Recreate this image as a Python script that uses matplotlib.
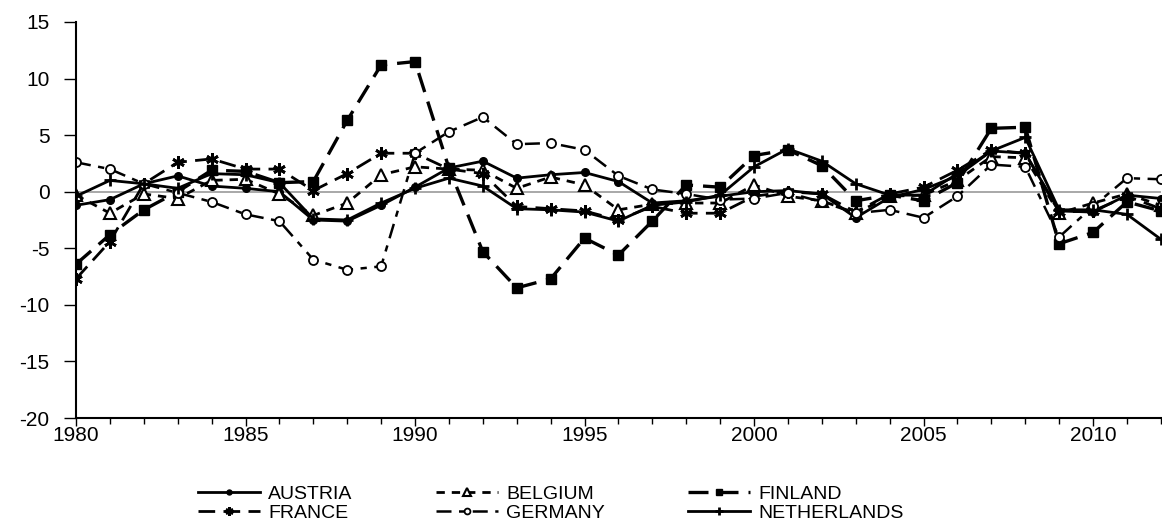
import matplotlib.pyplot as plt
from matplotlib.ticker import MultipleLocator
import numpy as np

plt.rcParams['font.family'] = ['Liberation Sans', 'DejaVu Sans']
plt.rcParams['axes.unicode_minus'] = False

# anos y series
years = np.arange(1980, 2013)

austria = [-1.2, -0.7, 0.7, 1.4, 0.5, 0.3, 0.0, -2.5, -2.6, -1.2,
           0.4, 2.1, 2.7, 1.2, 1.5, 1.7, 0.9, -1.0, -0.8, -0.4,
           0.0, 0.1, -0.2, -2.3, -0.5, 0.2, 1.4, 3.6, 3.4, -1.7,
           -1.8, -0.3, -0.6]
belgium = [-0.3, -1.9, -0.2, -0.6, 1.0, 1.1, -0.2, -2.1, -1.0, 1.5,
           2.2, 2.0, 1.9, 0.3, 1.3, 0.6, -1.6, -1.1, -1.0, -1.0,
           0.6, -0.4, -0.8, -1.9, -0.4, -0.3, 1.0, 3.1, 3.0, -1.9,
           -1.0, -0.2, -1.2]
finland = [-6.4, -3.8, -1.6, 0.0, 1.9, 1.8, 0.8, 0.9, 6.3, 11.2,
           11.5, 2.1, -5.3, -8.5, -7.7, -4.1, -5.6, -2.6, 0.6, 0.4,
           3.2, 3.7, 2.3, -0.8, -0.3, -0.8, 0.8, 5.6, 5.7, -4.6,
           -3.6, -0.9, -1.7]
france = [-7.7, -4.4, 0.7, 2.6, 2.9, 2.0, 2.0, 0.1, 1.6, 3.4,
          3.4, 2.0, 1.6, -1.3, -1.5, -1.7, -2.5, -1.3, -1.9, -1.9,
          -0.4, 0.0, -0.2, -1.8, -0.2, 0.4, 1.9, 3.7, 3.4, -1.8,
          -1.7, -0.4, -1.5]
germany = [2.6, 2.0, 0.7, -0.1, -0.9, -2.0, -2.6, -6.0, -6.9, -6.6,
           3.4, 5.3, 6.6, 4.2, 4.3, 3.7, 1.4, 0.2, -0.2, -0.7,
           -0.6, -0.1, -0.9, -1.9, -1.6, -2.3, -0.4, 2.4, 2.2, -4.0,
           -1.3, 1.2, 1.1]
netherlands = [-0.4, 1.0, 0.7, 0.3, 1.6, 1.5, 0.8, -2.4, -2.5, -1.0,
               0.3, 1.2, 0.5, -1.5, -1.6, -1.8, -2.6, -1.2, -0.9, -0.3,
               2.2, 3.8, 2.7, 0.7, -0.3, -0.3, 1.6, 3.6, 4.8, -1.6,
               -1.6, -2.0, -4.2]

fig = plt.figure(figsize=(11.62, 5.30), dpi=100)
ax = fig.add_axes([0.0654, 0.2113, 0.9336, 0.7472])

ax.axhline(0, color='#999999', lw=1.2, zorder=1)

lw = 2.0
l_aus, = ax.plot(years, austria, color='k', lw=lw, ls='-', marker='o', ms=5.5,
                 mfc='k', label='AUSTRIA')
l_bel, = ax.plot(years, belgium, color='k', lw=lw, ls=(0, (3, 2.5)), marker='^',
                 ms=8, mfc='white', mew=1.5, label='BELGIUM')
l_fin, = ax.plot(years, finland, color='k', lw=lw + 0.4, ls=(0, (6, 3)), marker='s',
                 ms=7.5, mfc='k', label='FINLAND')
l_fra, = ax.plot(years, france, color='k', lw=lw, ls=(0, (6, 3)), marker=(6, 2, 0),
                 ms=9, mew=2, label='FRANCE')
l_ger, = ax.plot(years, germany, color='k', lw=lw - 0.2, ls=(0, (6, 3, 2.5, 3)), marker='o',
                 ms=6.5, mfc='white', mew=1.3, label='GERMANY')
l_net, = ax.plot(years, netherlands, color='k', lw=lw, ls='-', marker='+',
                 ms=9, mew=2, label='NETHERLANDS')

ax.set_xlim(1980, 2012)
ax.set_ylim(-20, 15)
ax.xaxis.set_major_locator(MultipleLocator(5))
ax.xaxis.set_minor_locator(MultipleLocator(1))
ax.yaxis.set_major_locator(MultipleLocator(5))

for s in ['top', 'right']:
    ax.spines[s].set_visible(False)
for s in ['left', 'bottom']:
    ax.spines[s].set_linewidth(1.5)

ax.tick_params(axis='y', which='major', direction='out', length=9,
               width=1, labelsize=15, pad=10)
ax.tick_params(axis='x', which='major', direction='out', length=6,
               width=1, labelsize=15, pad=0)
ax.tick_params(axis='x', which='minor', direction='out', length=4, width=1)

handles = [l_aus, l_fra, l_bel, l_ger, l_fin, l_net]
leg = fig.legend(handles=handles, labels=[h.get_label() for h in handles],
                 loc='center', bbox_to_anchor=(0.474, 0.050), ncol=3,
                 frameon=False, fontsize=14, handlelength=3.2,
                 columnspacing=4.3, labelspacing=0.08, handletextpad=0.4,
                 markerscale=0.65, borderpad=0)

fig.savefig('out.png', dpi=100)
